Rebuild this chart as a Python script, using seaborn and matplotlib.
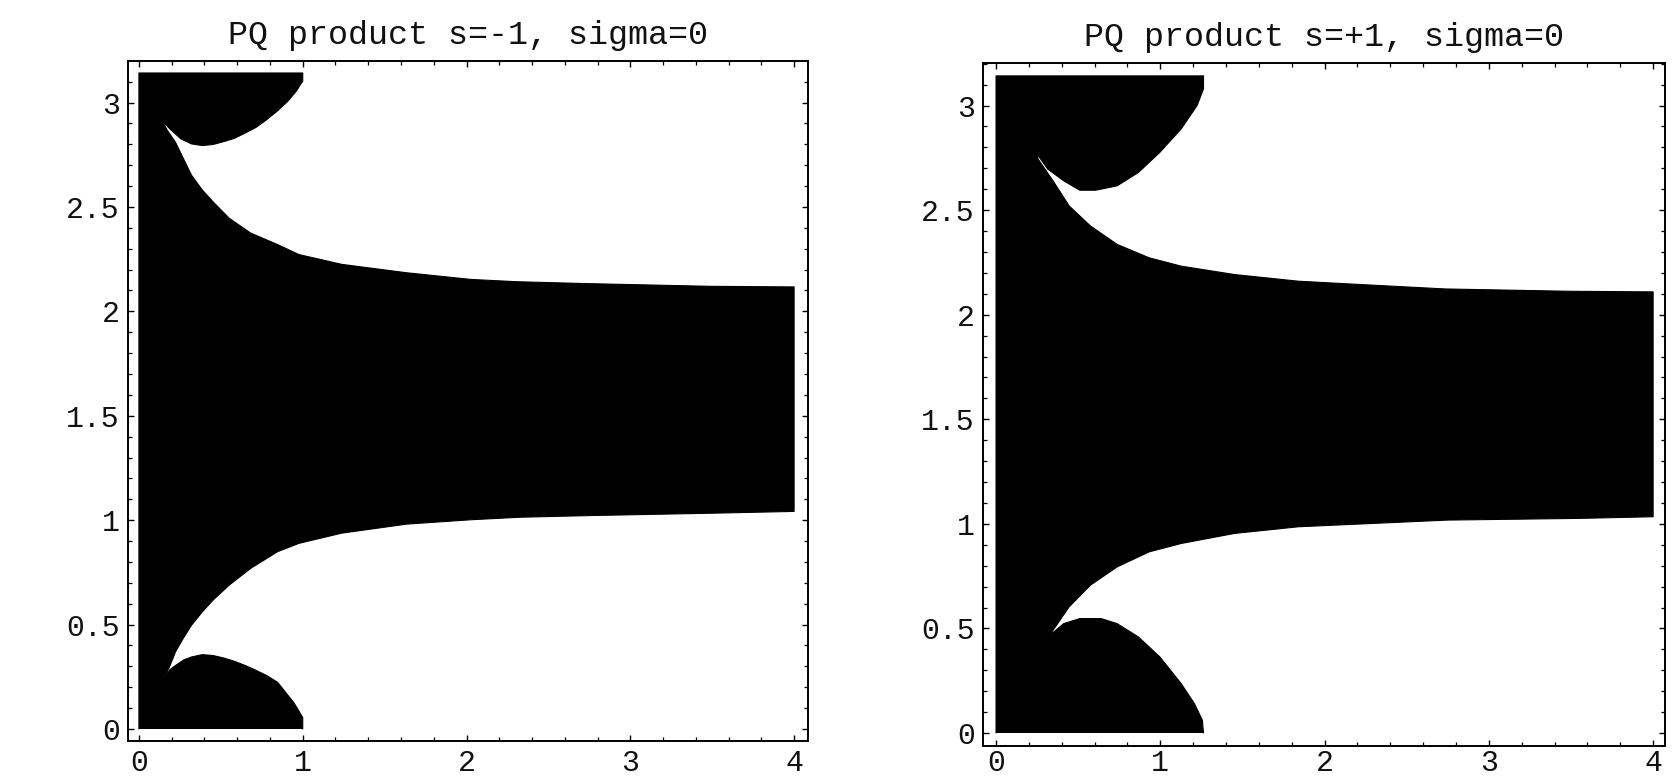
import numpy as np
import matplotlib
matplotlib.use("Agg")
import matplotlib.pyplot as plt
import seaborn as sns
from matplotlib.ticker import FixedLocator, MultipleLocator

# ---------------- data ----------------
TITLES = ["PQ product s=-1, sigma=0", "PQ product s=+1, sigma=0"]
X_TICKS = [0, 1, 2, 3, 4]
X_TICK_LABELS = ["0", "1", "2", "3", "4"]
Y_TICKS = [0, 0.5, 1, 1.5, 2, 2.5, 3]
Y_TICK_LABELS = ["0", "0.5", "1", "1.5", "2", "2.5", "3"]
Y_TOP = np.pi

# ---- panel 1 : s = -1 ----
s1_lobe_top_x = [0.141, 0.190, 0.256, 0.321, 0.387, 0.452, 0.518, 0.584, 0.649,
                 0.715, 0.780, 0.846, 0.911, 0.961, 0.993, 1.000]
s1_lobe_top_y = [2.913, 2.873, 2.826, 2.802, 2.794, 2.799, 2.813, 2.829, 2.854,
                 2.881, 2.918, 2.960, 3.008, 3.055, 3.095, 3.100]
s1_upper_x = [0.141, 0.174, 0.223, 0.272, 0.321, 0.387, 0.452, 0.551, 0.682,
              0.846, 0.977, 1.239, 1.633, 2.026, 2.305, 2.731, 3.485, 4.000]
s1_upper_y = [2.913, 2.866, 2.810, 2.731, 2.652, 2.581, 2.525, 2.446, 2.375,
              2.320, 2.272, 2.225, 2.185, 2.153, 2.142, 2.133, 2.120, 2.117]
s1_lower_x = [0.151, 0.190, 0.223, 0.272, 0.321, 0.387, 0.452, 0.551, 0.682,
              0.846, 0.977, 1.239, 1.633, 2.026, 2.321, 2.748, 3.534, 4.000]
s1_lower_y = [0.240, 0.304, 0.369, 0.436, 0.497, 0.561, 0.617, 0.689, 0.769,
              0.849, 0.889, 0.938, 0.981, 1.002, 1.014, 1.022, 1.034, 1.042]
s1_lobe_bot_x = [0.151, 0.190, 0.223, 0.272, 0.321, 0.387, 0.452, 0.518, 0.584,
                 0.649, 0.715, 0.780, 0.846, 0.879, 0.911, 0.944, 0.970, 0.993, 1.000]
s1_lobe_bot_y = [0.240, 0.285, 0.304, 0.330, 0.345, 0.356, 0.352, 0.340, 0.324,
                 0.304, 0.281, 0.256, 0.224, 0.192, 0.160, 0.128, 0.095, 0.064, 0.055]

# ---- panel 2 : s = +1 ----
s2_lobe_top_x = [0.250, 0.315, 0.412, 0.510, 0.607, 0.737, 0.867, 0.997, 1.127,
                 1.224, 1.263]
s2_lobe_top_y = [2.768, 2.696, 2.640, 2.595, 2.595, 2.616, 2.680, 2.776, 2.888,
                 3.000, 3.080]
s2_upper_x = [0.256, 0.347, 0.445, 0.575, 0.737, 0.932, 1.127, 1.451, 1.841,
              2.295, 2.734, 3.481, 4.000]
s2_upper_y = [2.744, 2.640, 2.520, 2.424, 2.336, 2.272, 2.232, 2.192, 2.160,
              2.141, 2.123, 2.112, 2.109]
s2_lower_x = [0.234, 0.347, 0.445, 0.575, 0.737, 0.932, 1.127, 1.451, 1.841,
              2.295, 2.750, 3.545, 4.000]
s2_lower_y = [0.356, 0.491, 0.603, 0.707, 0.794, 0.866, 0.906, 0.954, 0.986,
              1.002, 1.018, 1.026, 1.034]
s2_lobe_bot_x = [0.234, 0.315, 0.412, 0.510, 0.640, 0.737, 0.867, 0.997, 1.127,
                 1.208, 1.256, 1.263]
s2_lobe_bot_y = [0.356, 0.459, 0.523, 0.547, 0.547, 0.523, 0.459, 0.364, 0.236,
                 0.140, 0.061, 0.000]

PANELS = [
    (s1_lobe_top_x, s1_lobe_top_y, s1_upper_x, s1_upper_y,
     s1_lower_x, s1_lower_y, s1_lobe_bot_x, s1_lobe_bot_y),
    (s2_lobe_top_x, s2_lobe_top_y, s2_upper_x, s2_upper_y,
     s2_lower_x, s2_lower_y, s2_lobe_bot_x, s2_lobe_bot_y),
]

# ---------------- style ----------------
sns.set_theme(style="ticks")
plt.rcParams["font.family"] = ["Liberation Mono", "DejaVu Sans Mono"]

fig = plt.figure(figsize=(16.75, 7.76), dpi=100)
axes_rects = [
    [0.0764, 0.0451, 0.4060, 0.8763],
    [0.5869, 0.0387, 0.4072, 0.8802],
]
xlims = [(-0.067, 4.085), (-0.079, 4.073)]
ylims = [(-0.0575, 3.199), (-0.062, np.pi + 0.062)]
x_label_pads = [6, 2.5]


def outline(lt_x, lt_y, up_x, up_y, lo_x, lo_y, lb_x, lb_y):
    xs = [0.0, 0.0, lt_x[-1]] + lt_x[::-1] + up_x + lo_x[::-1] + lb_x + [lb_x[-1]]
    ys = [0.0, Y_TOP, Y_TOP] + lt_y[::-1] + up_y + lo_y[::-1] + lb_y + [0.0]
    return xs, ys


for i, (title, data) in enumerate(zip(TITLES, PANELS)):
    ax = fig.add_axes(axes_rects[i])
    ax.set_facecolor("white")
    xs, ys = outline(*data)
    ax.fill(xs, ys, color="black", lw=0)
    sns.lineplot(x=xs, y=ys, sort=False, estimator=None, color="black",
                 lw=0.8, ax=ax)

    ax.set_xlim(*xlims[i])
    ax.set_ylim(*ylims[i])
    ax.xaxis.set_major_locator(FixedLocator(X_TICKS))
    ax.set_xticklabels(X_TICK_LABELS)
    ax.yaxis.set_major_locator(FixedLocator(Y_TICKS))
    ax.set_yticklabels(Y_TICK_LABELS)
    ax.xaxis.set_minor_locator(MultipleLocator(0.2))
    ax.yaxis.set_minor_locator(MultipleLocator(0.1))

    ax.tick_params(which="both", direction="in", top=True, right=True,
                   labeltop=False, labelright=False, color="black",
                   labelcolor="#111111", labelsize=21.5)
    ax.tick_params(which="major", length=4.5, width=1.0)
    ax.tick_params(axis="y", which="major", pad=6)
    ax.tick_params(axis="x", which="major", pad=x_label_pads[i])
    ax.tick_params(which="minor", length=3.0, width=0.9)
    for sp in ax.spines.values():
        sp.set_visible(True)
        sp.set_color("black")
        sp.set_linewidth(1.4)
    ax.set_xlabel("")
    ax.set_ylabel("")
    ax.set_title(title, fontsize=24, pad=12, color="#111111")

fig.savefig("out.png", dpi=100)
